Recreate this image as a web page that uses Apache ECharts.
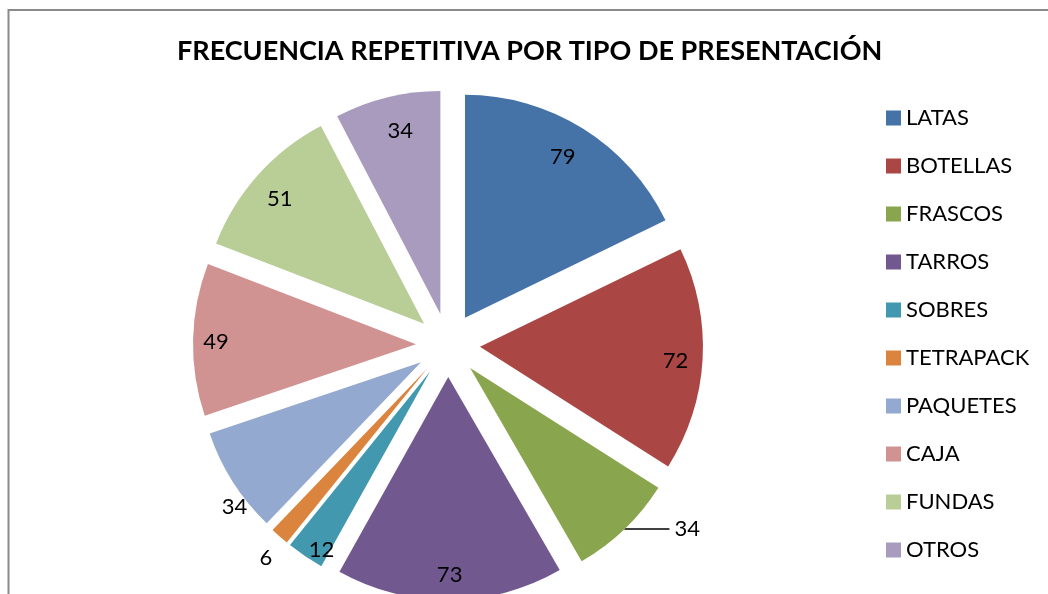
<!DOCTYPE html>
<html>
<head>
<meta charset="utf-8">
<script src="https://cdn.jsdelivr.net/npm/echarts@6/dist/echarts.min.js"></script>
<style>
  html, body { margin: 0; padding: 0; background: #fff; }
  #chart { width: 1048px; height: 594px; }
</style>
</head>
<body>
<div id="chart"></div>
<script>
// data
const categories = ['LATAS', 'BOTELLAS', 'FRASCOS', 'TARROS', 'SOBRES', 'TETRAPACK', 'PAQUETES', 'CAJA', 'FUNDAS', 'OTROS']
const values = [79, 72, 34, 73, 12, 6, 34, 49, 51, 34]

// Excel 2007 palette
const colors = ['#4572A7', '#AA4643', '#89A54E', '#71588F', '#4198AF', '#DB843D', '#93A9CF', '#D19392', '#B9CD96', '#A99BBD']

// pie geometry
const cx = 448
const cy = 345
const radius = 223
const explode = 32
// label distance from centre and small angle nudge (deg), like Excel "best fit"
const labelDist = [217, 225, 0, 227, 238, 277, 265, 229, 220, 216]
const labelNudge = [-0.6, 0.8, 0, 0, -2.4, -0.8, -4.8, -0.4, -0.7, 1.2]

const total = values.reduce((a, b) => a + b, 0)
const midAngles = []
let acc = 0
values.forEach(v => {
  midAngles.push((acc + v / 2) / total * 360)
  acc += v
})

const font = 'Lato, "Open Sans", sans-serif'

const chart = echarts.init(document.getElementById('chart'))

chart.setOption({
  animation: false,
  color: colors,
  title: {
    text: 'FRECUENCIA REPETITIVA POR TIPO DE PRESENTACIÓN',
    left: 172,
    top: 33,
    textStyle: {
      fontFamily: font,
      fontSize: 27,
      fontWeight: 'bold',
      color: '#000'
    }
  },
  legend: {
    orient: 'vertical',
    left: 881,
    top: 102,
    itemWidth: 15,
    itemHeight: 15,
    itemGap: 26,
    icon: 'rect',
    selectedMode: false,
    data: categories,
    textStyle: {
      fontFamily: font,
      fontSize: 22,
      lineHeight: 22,
      color: '#000'
    }
  },
  graphic: [{
    type: 'rect',
    shape: { x: 8.5, y: 10, width: 2000, height: 2000 },
    style: { fill: 'none', stroke: '#8a8a8a', lineWidth: 2 },
    silent: true
  }],
  series: [{
    type: 'pie',
    center: [cx, cy],
    radius: radius,
    startAngle: 90,
    clockwise: true,
    selectedMode: 'multiple',
    selectedOffset: explode,
    avoidLabelOverlap: false,
    emphasis: { disabled: true },
    label: {
      show: true,
      position: 'inside',
      formatter: '{c}',
      fontFamily: font,
      fontSize: 22,
      color: '#000'
    },
    labelLine: { show: false },
    // move inside labels out towards the rim, as Excel does
    labelLayout: function (p) {
      const i = p.dataIndex
      if (!labelDist[i]) return {}
      const m = midAngles[i] * Math.PI / 180
      const a = (midAngles[i] + labelNudge[i]) * Math.PI / 180
      const d0 = explode + radius / 2
      return {
        dx: labelDist[i] * Math.sin(a) - d0 * Math.sin(m),
        dy: -labelDist[i] * Math.cos(a) + d0 * Math.cos(m)
      }
    },
    data: categories.map((name, i) => {
      const item = { name: name, value: values[i], selected: true }
      if (name === 'FRASCOS') {
        item.label = { position: 'outside', distanceToLabelLine: 5 }
        item.labelLine = {
          show: true,
          length: 0,
          length2: 45,
          lineStyle: { color: '#000', width: 1.5 }
        }
      }
      return item
    })
  }]
})
</script>
</body>
</html>
